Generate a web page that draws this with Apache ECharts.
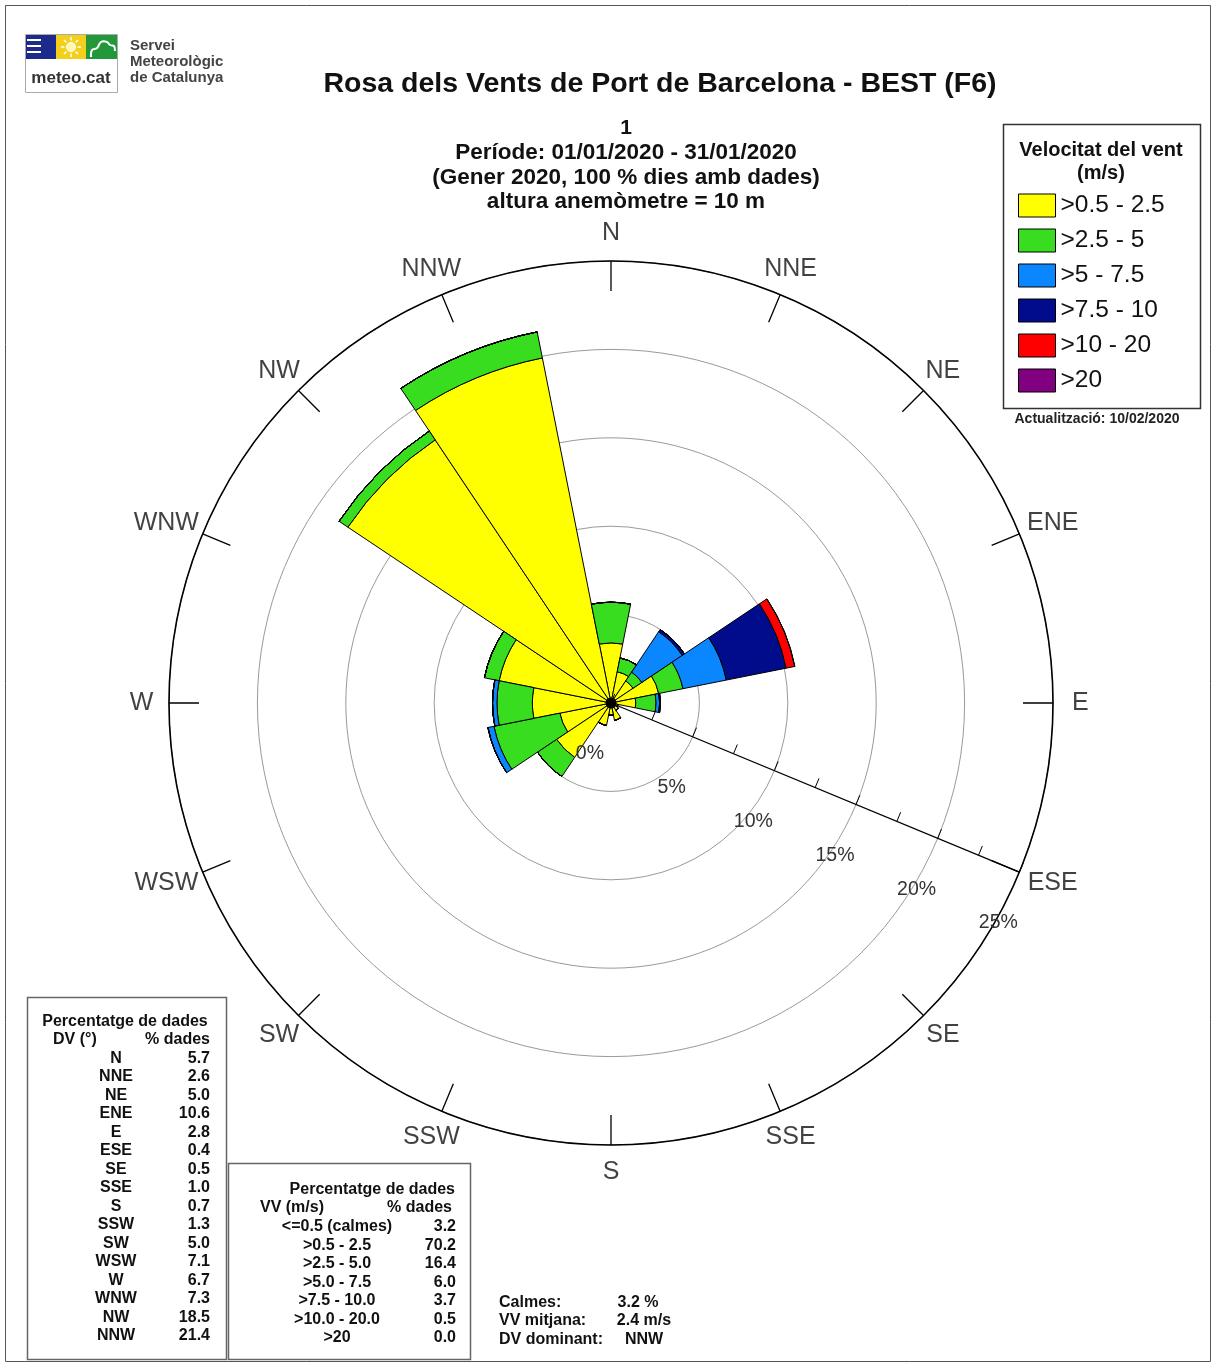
<!DOCTYPE html>
<html>
<head>
<meta charset="utf-8">
<title>Rosa dels Vents de Port de Barcelona</title>
<script src="https://cdn.jsdelivr.net/npm/echarts@6.0.0/dist/echarts.min.js"></script>
<style>
  html, body { margin: 0; padding: 0; background: #fff; }
  #chart { width: 1212px; height: 1363px; }
</style>
</head>
<body>
<div id="chart"></div>
<script>
// Wind directions, clockwise from north
const directions = ['N', 'NNE', 'NE', 'ENE', 'E', 'ESE', 'SE', 'SSE', 'S', 'SSW', 'SW', 'WSW', 'W', 'WNW', 'NW', 'NNW'];

// Speed classes (m/s)
const speedClasses = ['>0.5 - 2.5', '>2.5 - 5', '>5 - 7.5', '>7.5 - 10', '>10 - 20', '>20'];

// Frequency (% of records) per direction for each speed class
const freq0to2 = [3.4, 1.8, 1.5, 2.75, 1.4, 0.4, 0.5, 1.0, 0.7, 1.3, 3.7, 2.95, 4.45, 6.45, 17.9, 19.9];
const freq2to5 = [2.3, 0.8, 0.6, 1.4, 1.15, 0, 0, 0, 0, 0, 1.3, 3.8, 2.0, 0.85, 0.6, 1.5];
const freq5to7 = [0, 0, 2.75, 2.5, 0.2, 0, 0, 0, 0, 0, 0, 0.35, 0.25, 0, 0, 0];
const freq7to10 = [0, 0, 0.15, 3.45, 0.05, 0, 0, 0, 0, 0, 0, 0, 0, 0, 0, 0];
const freq10to20 = [0, 0, 0, 0.5, 0, 0, 0, 0, 0, 0, 0, 0, 0, 0, 0, 0];
const freqAbove20 = [0, 0, 0, 0, 0, 0, 0, 0, 0, 0, 0, 0, 0, 0, 0, 0];

// Radial scale (% of records)
const radialMax = 25;
const radialStep = 5;
const radialMinorStep = 2.5;

// Speed-class summary table
const speedTableLabels = ['<=0.5 (calmes)', '>0.5 - 2.5', '>2.5 - 5.0', '>5.0 - 7.5', '>7.5 - 10.0', '>10.0 - 20.0', '>20'];
const speedTableShares = [3.2, 70.2, 16.4, 6.0, 3.7, 0.5, 0.0];

// Summary figures
const calmShare = 3.2;
const meanSpeed = 2.4;
const dominantDirection = 'NNW';

const classSeries = [freq0to2, freq2to5, freq5to7, freq7to10, freq10to20, freqAbove20];
const classColors = ['#ffff00', '#38dd1f', '#0a86ff', '#000c8c', '#ff0000', '#800080'];

const FONT = '"Liberation Sans", Arial, sans-serif';
const CX = 611, CY = 703, R = 442;

const directionTotals = directions.map((d, i) =>
  classSeries.reduce((s, arr) => s + arr[i], 0));

function text(x, y, str, o) {
  o = o || {};
  return {
    type: 'text', x: x, y: y, z: 20, silent: true,
    style: {
      text: str,
      fontFamily: FONT,
      fontSize: o.size || 14,
      fontWeight: o.weight || 'bold',
      fill: o.color || '#111',
      align: o.align || 'left',
      verticalAlign: 'middle'
    }
  };
}

const graphics = [];

// page frame
graphics.push({ type: 'rect', z: 1, silent: true, shape: { x: 5.5, y: 5.5, width: 1205, height: 1356 },
  style: { fill: 'none', stroke: '#555', lineWidth: 1 } });

// logo
graphics.push({ type: 'rect', z: 20, shape: { x: 25.5, y: 34.5, width: 92, height: 58 }, style: { fill: '#fff', stroke: '#aaa', lineWidth: 1 } });
graphics.push({ type: 'rect', z: 21, shape: { x: 26, y: 35, width: 30, height: 24 }, style: { fill: '#1c2a8c' } });
graphics.push({ type: 'rect', z: 21, shape: { x: 56, y: 35, width: 30, height: 24 }, style: { fill: '#f4cf1c' } });
graphics.push({ type: 'rect', z: 21, shape: { x: 86, y: 35, width: 31, height: 24 }, style: { fill: '#23983a' } });
[40, 46, 52].forEach(y => graphics.push({ type: 'rect', z: 22, shape: { x: 27, y: y - 1, width: 14, height: 2 }, style: { fill: '#fff' } }));
graphics.push({ type: 'circle', z: 22, shape: { cx: 71, cy: 47, r: 4.5 }, style: { fill: '#fff7b0', stroke: '#fff', lineWidth: 1 } });
for (let k = 0; k < 8; k++) {
  const a = k * Math.PI / 4;
  graphics.push({ type: 'line', z: 22, shape: { x1: 71 + 6.5 * Math.cos(a), y1: 47 + 6.5 * Math.sin(a), x2: 71 + 10 * Math.cos(a), y2: 47 + 10 * Math.sin(a) },
    style: { stroke: '#fff', lineWidth: 1.5 } });
}
graphics.push({ type: 'polyline', z: 22, shape: { points: [[91, 57], [92, 50], [97, 48], [101, 42], [107, 42], [110, 45], [114, 46], [115, 51]], smooth: 0.4 },
  style: { fill: 'none', stroke: '#fff', lineWidth: 2 } });
graphics.push(text(71, 78, 'meteo.cat', { size: 17, color: '#333', align: 'center' }));
graphics.push(text(130, 46, 'Servei', { size: 15, color: '#444' }));
graphics.push(text(130, 62, 'Meteorològic', { size: 15, color: '#444' }));
graphics.push(text(130, 78, 'de Catalunya', { size: 15, color: '#444' }));

// titles
graphics.push(text(660, 84, 'Rosa dels Vents de Port de Barcelona - BEST (F6)', { size: 28.5, align: 'center' }));
graphics.push(text(626, 128, '1', { size: 21, align: 'center' }));
graphics.push(text(626, 153, 'Període: 01/01/2020 - 31/01/2020', { size: 22.5, align: 'center' }));
graphics.push(text(626, 178, '(Gener 2020, 100 % dies amb dades)', { size: 22.5, align: 'center' }));
graphics.push(text(626, 202, 'altura anemòmetre = 10 m', { size: 22.5, align: 'center' }));

// legend box
graphics.push({ type: 'rect', z: 19, shape: { x: 1003.5, y: 124.5, width: 197, height: 284 },
  style: { fill: '#fff', stroke: '#333', lineWidth: 1.5 } });
graphics.push(text(1101, 150, 'Velocitat del vent', { size: 20, align: 'center' }));
graphics.push(text(1101, 173, '(m/s)', { size: 20, align: 'center' }));
graphics.push(text(1097, 419, 'Actualització: 10/02/2020', { size: 14, align: 'center', color: '#222' }));

// direction table
graphics.push({ type: 'rect', z: 19, shape: { x: 27.5, y: 997.5, width: 199, height: 362 },
  style: { fill: '#fff', stroke: '#666', lineWidth: 1.5 } });
graphics.push(text(125, 1022, 'Percentatge de dades', { size: 16, align: 'center' }));
graphics.push(text(53, 1040, 'DV (°)', { size: 16 }));
graphics.push(text(210, 1040, '% dades', { size: 16, align: 'right' }));
directions.forEach((d, i) => {
  const y = 1058.5 + i * 18.5;
  graphics.push(text(116, y, d, { size: 16, align: 'center' }));
  graphics.push(text(210, y, directionTotals[i].toFixed(1), { size: 16, align: 'right' }));
});

// speed table
graphics.push({ type: 'rect', z: 19, shape: { x: 228.5, y: 1163.5, width: 242, height: 196 },
  style: { fill: '#fff', stroke: '#666', lineWidth: 1.5 } });
graphics.push(text(455, 1190, 'Percentatge de dades', { size: 16, align: 'right' }));
graphics.push(text(260, 1208, 'VV (m/s)', { size: 16 }));
graphics.push(text(452, 1208, '% dades', { size: 16, align: 'right' }));
speedTableLabels.forEach((lab, i) => {
  const y = 1227 + i * 18.5;
  graphics.push(text(337, y, lab, { size: 16, align: 'center' }));
  graphics.push(text(456, y, speedTableShares[i].toFixed(1), { size: 16, align: 'right' }));
});

// summary
graphics.push(text(499, 1303, 'Calmes:', { size: 16 }));
graphics.push(text(499, 1321, 'VV mitjana:', { size: 16 }));
graphics.push(text(499, 1340, 'DV dominant:', { size: 16 }));
graphics.push(text(638, 1303, calmShare.toFixed(1) + ' %', { size: 16, align: 'center' }));
graphics.push(text(644, 1321, meanSpeed.toFixed(1) + ' m/s', { size: 16, align: 'center' }));
graphics.push(text(644, 1340, dominantDirection, { size: 16, align: 'center' }));

// hub where all sectors meet
graphics.push({ type: 'circle', z: 30, silent: true, shape: { cx: CX, cy: CY, r: 5.5 }, style: { fill: '#000' } });

const barSeries = speedClasses.map((name, k) => ({
  type: 'bar',
  name: name,
  coordinateSystem: 'polar',
  polarIndex: 0,
  stack: 'wind',
  data: classSeries[k],
  barCategoryGap: '0%',
  itemStyle: { color: classColors[k], borderColor: '#000', borderWidth: 1 },
  emphasis: { disabled: true },
  z: 3
}));

// compass point names, placed just outside the outer ring;
// long names on the east/west flanks are nudged outward
const compassLabels = {
  type: 'scatter',
  coordinateSystem: 'polar',
  polarIndex: 0,
  data: directions.map((d, i) => {
    const s = Math.sin(i * Math.PI / 8);
    const nudge = Math.abs(s) > 0.9 ? Math.sign(s) * (d.length - 1) * (s > 0 ? 4 : 5.5) : 0;
    return { value: [26.55, i], label: { offset: [nudge, 0] } };
  }),
  symbolSize: 1,
  clip: false,
  silent: true,
  itemStyle: { color: 'rgba(0,0,0,0)' },
  label: {
    show: true,
    position: 'inside',
    formatter: p => directions[p.dataIndex],
    fontFamily: FONT,
    fontSize: 25,
    color: '#111'
  },
  z: 6
};

const chart = echarts.init(document.getElementById('chart'), null, { renderer: 'canvas' });
chart.setOption({
  animation: false,
  backgroundColor: '#fff',
  textStyle: { fontFamily: FONT },
  polar: [
    { center: [CX, CY], radius: R },
    { center: [CX, CY], radius: R }
  ],
  angleAxis: [
    {
      polarIndex: 0,
      type: 'category',
      data: directions,
      startAngle: 90 + 11.25,
      clockwise: true,
      boundaryGap: true,
      axisLine: { show: true, lineStyle: { color: '#000', width: 1.6 } },
      axisTick: { show: true, inside: true, length: 30, alignWithLabel: true, lineStyle: { color: '#000', width: 1.3 } },
      axisLabel: { show: false },
      splitLine: { show: false },
      z: 4
    },
    {
      polarIndex: 1,
      type: 'value',
      min: 0,
      max: 360,
      startAngle: 337.5,
      show: false
    }
  ],
  radiusAxis: [
    {
      polarIndex: 0,
      type: 'value',
      min: 0,
      max: radialMax,
      interval: radialStep,
      axisLine: { show: false },
      axisTick: { show: false },
      axisLabel: { show: false },
      splitLine: { show: true, lineStyle: { color: '#9a9a9a', width: 1 } }
    },
    {
      polarIndex: 1,
      type: 'value',
      min: 0,
      max: radialMax,
      interval: radialMinorStep,
      axisLine: { show: true, lineStyle: { color: '#000', width: 1.2 } },
      axisTick: { show: true, inside: true, length: 10, lineStyle: { color: '#000', width: 1 } },
      axisLabel: {
        show: true,
        showMinLabel: true,
        showMaxLabel: true,
        margin: -55,
        align: 'center',
        verticalAlign: 'middle',
        fontFamily: FONT,
        fontSize: 19.5,
        color: '#333',
        formatter: v => (v % radialStep === 0 ? v + '%' : '')
      },
      splitLine: { show: false },
      z: 5
    }
  ],
  legend: {
    data: speedClasses,
    orient: 'vertical',
    left: 1018,
    top: 193,
    padding: 0,
    itemWidth: 37,
    itemHeight: 23,
    itemGap: 10,
    icon: 'rect',
    selectedMode: false,
    itemStyle: { borderColor: '#000', borderWidth: 1 },
    textStyle: { fontFamily: FONT, fontSize: 24.5, color: '#111' },
    z: 25
  },
  graphic: graphics,
  series: barSeries.concat([compassLabels])
});
</script>
</body>
</html>
